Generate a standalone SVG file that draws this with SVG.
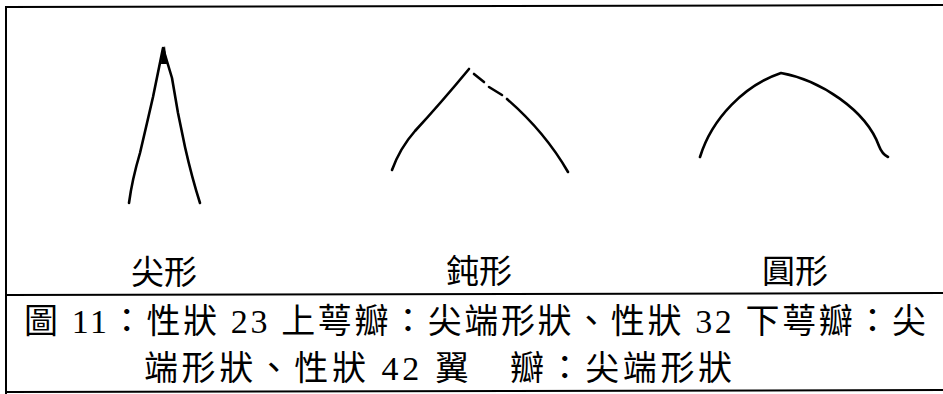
<svg xmlns="http://www.w3.org/2000/svg" width="943" height="394" viewBox="0 0 943 394">
<style>
.frame{stroke:#000;fill:none;stroke-width:2}
.shape{stroke:#000;fill:none;stroke-width:2.6;stroke-linecap:round;stroke-linejoin:round}
.lbl{font-family:"Liberation Serif","Noto Sans CJK TC",serif;font-size:33px;fill:#000}
.cap{font-family:"Liberation Serif","Noto Sans CJK TC",serif;font-size:34px;fill:#000}
</style>
<rect width="943" height="394" fill="#fff"/>
<g id="frame">
<line class="frame" x1="5" y1="7" x2="943" y2="5" stroke-width="2.5"/>
<line class="frame" x1="6" y1="6" x2="6" y2="394"/>
<line class="frame" x1="6" y1="295" x2="943" y2="293"/>
<line class="frame" x1="6" y1="392" x2="943" y2="390"/>
</g>
<g id="pointed">
<path class="shape" d="M129,203 Q132,180 140,153 L147,123 L153,97 L163,48 L172,78 L178,113 L185,147 Q192,178 200,203"/>
<path d="M161.5,52 L165,46 L167,64 L161,64 Z" fill="#000"/>
<text class="lbl" x="164" y="284" text-anchor="middle">尖形</text>
</g>
<g id="blunt">
<path class="shape" d="M392,170 Q400,148 415,131 Q440,104 469,69"/>
<path class="shape" d="M474,74 L484,82"/>
<path class="shape" d="M489,87 L502,95"/>
<path class="shape" d="M507,99 Q545,132 568,172"/>
<text class="lbl" x="479" y="283" text-anchor="middle">鈍形</text>
</g>
<g id="round">
<path class="shape" d="M700,157 C712,118 745,85 781,73 C820,80 866,110 879,146 Q882,154 888,157"/>
<text class="lbl" x="795" y="283" text-anchor="middle">圓形</text>
</g>
<g id="caption">
<text class="cap" x="24" y="333" textLength="902" lengthAdjust="spacing">圖 11：性狀 23 上萼瓣：尖端形狀、性狀 32 下萼瓣：尖</text>
<text class="cap" x="144" y="380" textLength="588" lengthAdjust="spacing">端形狀、性狀 42 翼　瓣：尖端形狀</text>
</g>
</svg>
